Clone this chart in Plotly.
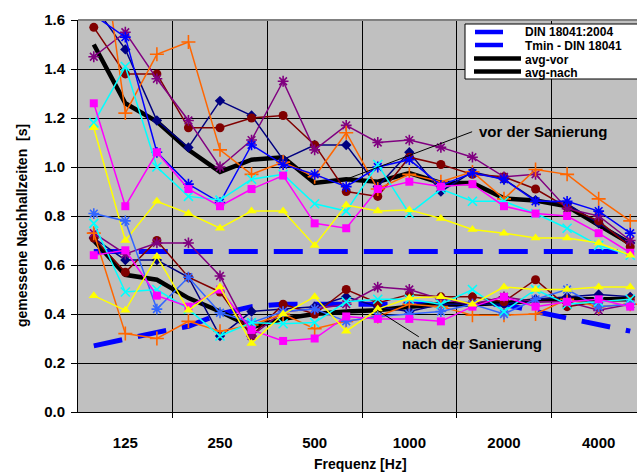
import plotly.graph_objects as go

# ---------------- data ----------------
freqs = ["100", "125", "160", "200", "250", "315", "400", "500", "630",
         "800", "1000", "1250", "1600", "2000", "2500", "3150", "4000", "5000"]
tick_labels = ["125", "250", "500", "1000", "2000", "4000"]

din_18041 = [0.655, 0.655, 0.655, 0.655, 0.655, 0.655, 0.655, 0.655, 0.655,
             0.655, 0.655, 0.655, 0.655, 0.655, 0.655, 0.655, 0.655, 0.655]
tmin_din = [0.27, 0.30, 0.325, 0.35, 0.40, 0.43, 0.44, 0.44, 0.44,
            0.44, 0.44, 0.44, 0.44, 0.44, 0.41, 0.385, 0.355, 0.33]

# vor der Sanierung
vor_navy = [1.66, 1.48, 1.19, 1.08, 1.27, 1.21, 1.03, 1.09, 1.09, 0.92, 1.06, 0.90, 0.98, 0.95, 0.865, 0.85, 0.77, 0.69]
vor_maroon = [1.57, 1.38, 1.38, 1.16, 1.16, 1.20, 1.21, 1.09, 0.90, 0.88, 1.04, 1.01, 0.97, 0.96, 0.91, 0.835, 0.78, 0.675]
vor_purple = [1.45, 1.55, 1.36, 1.19, 1.00, 1.11, 1.35, 1.07, 1.17, 1.10, 1.11, 1.08, 1.04, 0.96, 0.97, 0.83, 0.80, 0.70]
vor_orange = [2.15, 1.22, 1.46, 1.51, 1.07, 0.97, 1.02, 0.96, 1.14, 0.91, 0.97, 0.94, 0.98, 0.87, 0.99, 0.97, 0.87, 0.78]
vor_blue = [1.62, 1.53, 1.06, 0.93, 0.855, 1.09, 1.01, 0.97, 0.92, 1.00, 1.03, 0.925, 0.975, 0.95, 0.86, 0.86, 0.82, 0.73]
vor_cyan = [1.18, 1.41, 1.00, 0.88, 0.865, 0.95, 0.97, 0.85, 0.82, 1.01, 0.81, 0.91, 0.86, 0.86, 0.81, 0.75, 0.68, 0.64]
vor_magenta = [1.26, 0.84, 1.06, 0.91, 0.84, 0.91, 0.965, 0.77, 0.75, 0.91, 0.94, 0.92, 0.93, 0.84, 0.81, 0.80, 0.73, 0.65]
vor_yellow = [1.16, 0.70, 0.86, 0.81, 0.75, 0.82, 0.82, 0.68, 0.845, 0.82, 0.825, 0.79, 0.745, 0.73, 0.71, 0.71, 0.69, 0.64]
avg_vor = [1.50, 1.26, 1.185, 1.07, 0.98, 1.03, 1.04, 0.935, 0.95, 0.94, 0.975, 0.935, 0.935, 0.872, 0.863, 0.84, 0.763, 0.688]

# nach der Sanierung
nach_navy = [0.71, 0.62, 0.62, 0.55, 0.31, 0.41, 0.42, 0.43, 0.47, 0.43, 0.41, 0.44, 0.44, 0.44, 0.46, 0.47, 0.48, 0.47]
nach_maroon = [0.71, 0.57, 0.70, 0.55, 0.49, 0.31, 0.44, 0.40, 0.50, 0.445, 0.48, 0.47, 0.47, 0.45, 0.54, 0.43, 0.45, 0.46]
nach_purple = [0.73, 0.645, 0.69, 0.69, 0.555, 0.31, 0.41, 0.42, 0.44, 0.51, 0.50, 0.46, 0.44, 0.47, 0.45, 0.45, 0.415, 0.44]
nach_orange = [0.73, 0.32, 0.30, 0.37, 0.33, 0.355, 0.40, 0.34, 0.37, 0.39, 0.44, 0.43, 0.395, 0.395, 0.40, 0.46, 0.43, 0.44]
nach_blue = [0.81, 0.78, 0.42, 0.55, 0.405, 0.365, 0.41, 0.42, 0.37, 0.39, 0.40, 0.41, 0.44, 0.40, 0.46, 0.50, 0.43, 0.44]
nach_cyan = [0.77, 0.49, 0.50, 0.42, 0.31, 0.365, 0.36, 0.365, 0.45, 0.46, 0.46, 0.44, 0.50, 0.41, 0.50, 0.44, 0.45, 0.46]
nach_magenta = [0.64, 0.66, 0.475, 0.43, 0.50, 0.335, 0.29, 0.30, 0.39, 0.38, 0.38, 0.37, 0.43, 0.47, 0.43, 0.45, 0.46, 0.43]
nach_yellow = [0.475, 0.415, 0.635, 0.415, 0.51, 0.28, 0.40, 0.47, 0.33, 0.42, 0.465, 0.47, 0.44, 0.51, 0.50, 0.50, 0.51, 0.51]
avg_nach = [0.70, 0.56, 0.54, 0.465, 0.41, 0.346, 0.38, 0.40, 0.41, 0.415, 0.43, 0.44, 0.44, 0.445, 0.455, 0.46, 0.46, 0.46]

# ---------------- figure ----------------
W, H = 637, 473
ML, MR, MT, MB = 78, 0, 20, 61
PW, PH = W - ML - MR, H - MT - MB
FONT = "Liberation Sans, Arial, sans-serif"

x = list(range(len(freqs)))
tickvals = [freqs.index(t) for t in tick_labels]
boundaries = [v + 1.5 for v in tickvals[:-1]]


def px(xp):
    return (xp - ML) / PW


def py(yp):
    return (H - MB - yp) / PH


fig = go.Figure()

# reference curves (dashed blue)
fig.add_trace(go.Scatter(x=x, y=din_18041, mode="lines", name="DIN 18041:2004",
                         line=dict(color="#0000FF", width=5, dash="29px,16px")))
fig.add_trace(go.Scatter(x=x, y=tmin_din, mode="lines", name="Tmin - DIN 18041",
                         line=dict(color="#0000FF", width=5, dash="29px,16px")))

# averages
fig.add_trace(go.Scatter(x=x, y=avg_vor, mode="lines", name="avg-vor",
                         line=dict(color="black", width=4.5)))
fig.add_trace(go.Scatter(x=x, y=avg_nach, mode="lines", name="avg-nach",
                         line=dict(color="black", width=4.5)))

styles = [
    ("navy", "#000080", "diamond", 8, False),
    ("maroon", "#800000", "circle", 9, False),
    ("purple", "#800080", "asterisk-open", 9, True),
    ("orange", "#FF6600", "cross-thin-open", 10, True),
    ("blue", "#0000FF", "asterisk-open", 9, True),
    ("cyan", "#00FFFF", "x-thin-open", 9, True),
    ("magenta", "#FF00FF", "square", 8, False),
    ("yellow", "#FFFF00", "triangle-up", 9, False),
]
vor_series = [vor_navy, vor_maroon, vor_purple, vor_orange, vor_blue, vor_cyan, vor_magenta, vor_yellow]
nach_series = [nach_navy, nach_maroon, nach_purple, nach_orange, nach_blue, nach_cyan, nach_magenta, nach_yellow]

for group, series in (("vor", vor_series), ("nach", nach_series)):
    for (cname, color, sym, size, openm), vals in zip(styles, series):
        if group == "nach" and cname == "blue":
            color = "#3366FF"
        marker = dict(symbol=sym, size=size, color=color)
        if openm:
            marker["line"] = dict(color=color, width=1.6)
        fig.add_trace(go.Scatter(x=x, y=vals, mode="lines+markers",
                                 name=f"{group} {cname}",
                                 line=dict(color=color, width=1.5),
                                 marker=marker))

fig.update_layout(
    width=W, height=H,
    margin=dict(l=ML, r=MR, t=MT, b=MB),
    plot_bgcolor="#C0C0C0", paper_bgcolor="white",
    showlegend=False,
    font=dict(family=FONT, color="black"),
)
fig.update_xaxes(
    range=[-0.5, 17.215], tickmode="array", tickvals=tickvals, ticktext=tick_labels,
    ticks="", showgrid=False, zeroline=False,
    showline=True, linecolor="black", linewidth=1,
    tickfont=dict(size=15, weight="bold", family=FONT),
    ticklabelstandoff=17,
    minor=dict(tickmode="array", tickvals=boundaries, ticks="outside", ticklen=5,
               tickcolor="black", showgrid=True, gridcolor="black", gridwidth=1),
)
fig.update_yaxes(
    range=[0, 1.6], tick0=0, dtick=0.2, tickformat=".1f",
    ticks="outside", ticklen=6, tickcolor="black",
    showgrid=True, gridcolor="black", gridwidth=1, zeroline=False,
    showline=True, linecolor="black", linewidth=1,
    tickfont=dict(size=15, weight="bold", family=FONT),
    ticklabelstandoff=3,
)

# plot-area top border (grey)
fig.add_shape(type="line", xref="paper", yref="paper", x0=0, x1=1, y0=1, y1=1,
              line=dict(color="#808080", width=2))

# axis titles
fig.add_annotation(text="gemessene Nachhallzeiten\u00a0\u00a0[s]", textangle=-90,
                   xref="paper", yref="paper", x=px(22), y=py(226),
                   xanchor="center", yanchor="middle",
                   showarrow=False, font=dict(size=14, weight="bold", family=FONT))
fig.add_annotation(text="Frequenz [Hz]", xref="paper", yref="paper",
                   x=px(360), y=py(464), xanchor="center", yanchor="middle",
                   showarrow=False, font=dict(size=14, weight="bold", family=FONT))

# callouts
fig.add_shape(type="line", xref="x", yref="y", x0=11.99, y0=1.144, x1=8, y1=0.95,
              line=dict(color="black", width=1))
fig.add_annotation(text="vor der Sanierung", xref="x", yref="y", x=12.13, y=1.143,
                   xanchor="left", yanchor="middle", showarrow=False,
                   font=dict(size=15, weight="bold", family=FONT))
fig.add_shape(type="line", xref="x", yref="y", x0=10.3, y0=0.307, x1=8.98, y1=0.416,
              line=dict(color="black", width=1))
fig.add_annotation(text="nach der Sanierung", xref="x", yref="y", x=12.0, y=0.278,
                   xanchor="center", yanchor="middle", showarrow=False,
                   font=dict(size=15, weight="bold", family=FONT))

# legend box (drawn manually)
fig.add_shape(type="rect", xref="paper", yref="paper",
              x0=px(465), x1=px(700), y0=py(79), y1=py(24),
              fillcolor="white", line=dict(color="black", width=1))
legend_rows = [
    ("DIN 18041:2004", "#0000FF", 475, 503, 32.0, 32.5),
    ("Tmin - DIN 18041", "#0000FF", 475, 503, 45.0, 46.5),
    ("avg-vor", "black", 474, 521, 58.5, 60.0),
    ("avg-nach", "black", 474, 521, 71.5, 73.0),
]
for label, col, lx0, lx1, ly, ty in legend_rows:
    fig.add_shape(type="line", xref="paper", yref="paper",
                  x0=px(lx0), x1=px(lx1), y0=py(ly), y1=py(ly),
                  line=dict(color=col, width=4.5))
    fig.add_annotation(text=label, xref="paper", yref="paper", x=px(523), y=py(ty),
                       xanchor="left", yanchor="middle", showarrow=False,
                       font=dict(size=12, weight="bold", family=FONT))

fig.write_html("out.html", config={"displayModeBar": False},
               post_script="document.body.style.margin='0';")
